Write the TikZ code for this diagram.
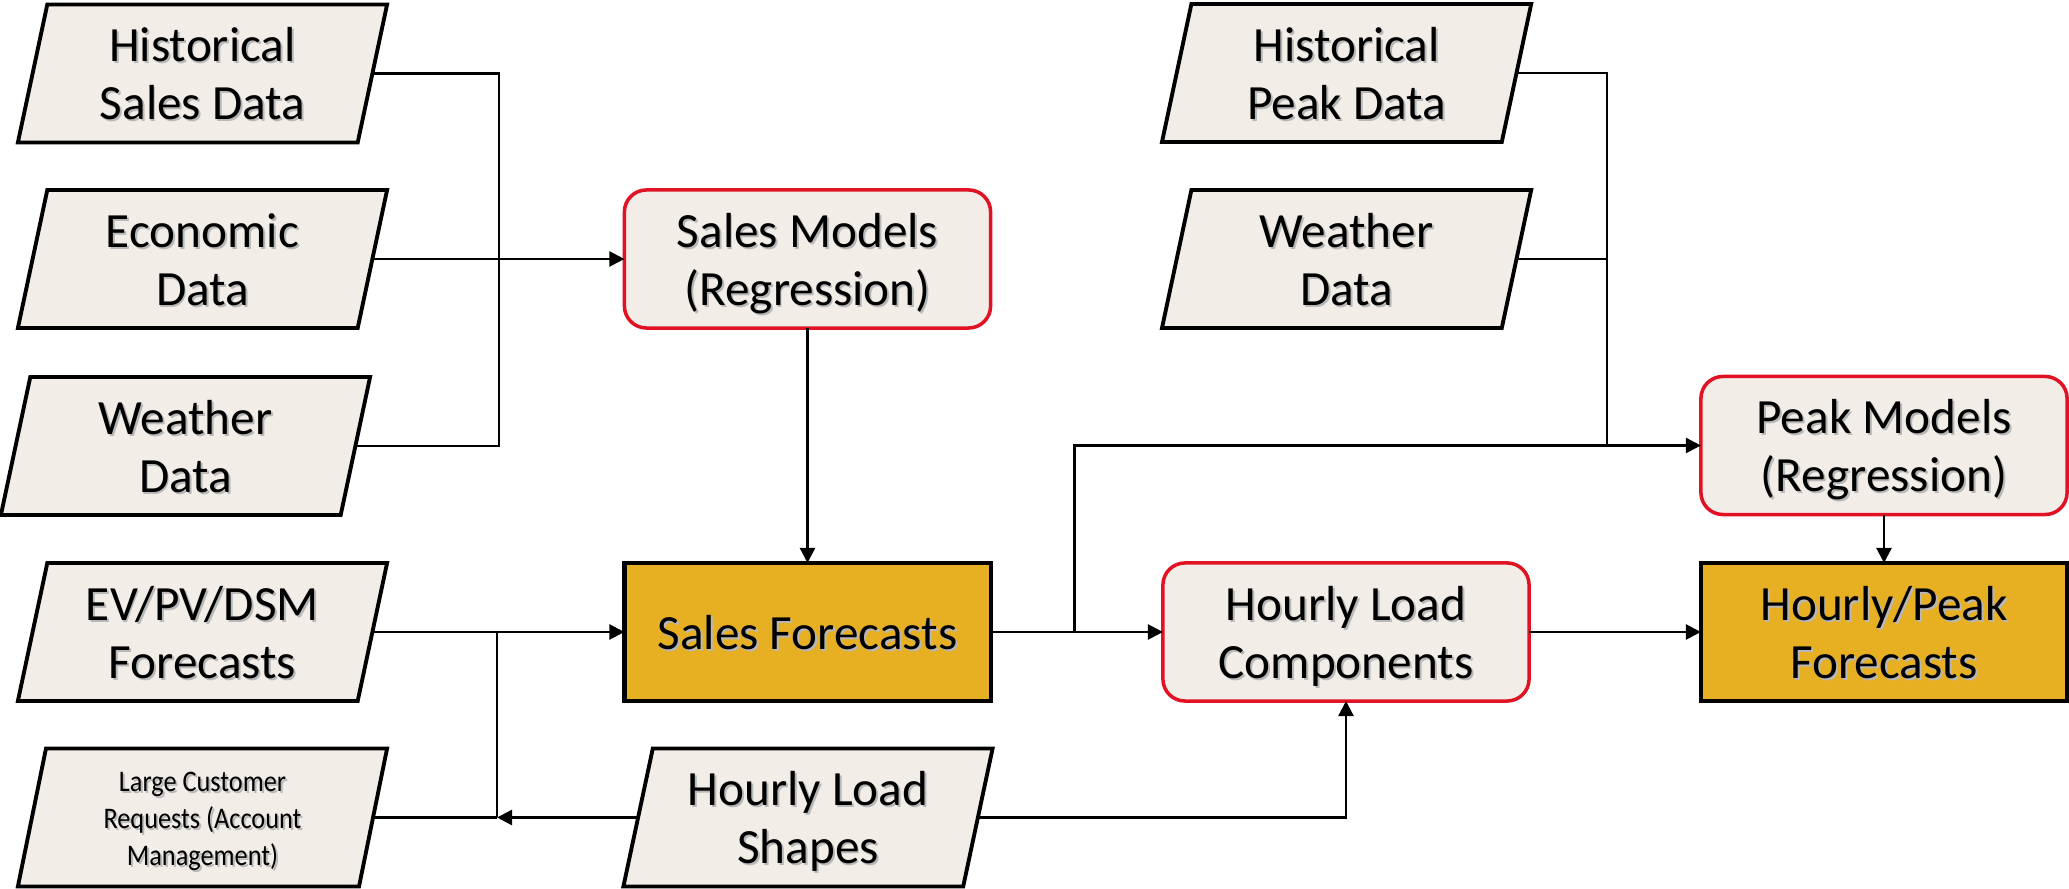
\documentclass[tikz,border=0pt]{standalone}
\usepackage{fontspec}
\setmainfont{Carlito}
\newfontfamily\lcfont[FakeStretch=0.88]{Carlito}
\usetikzlibrary{shapes.geometric,arrows.meta}
\definecolor{beige}{RGB}{243,237,232}
\definecolor{gold}{RGB}{230,176,34}
\definecolor{redb}{RGB}{224,18,36}
\newcommand{\shtxt}[1]{\begingroup\raisebox{-0.115\baselineskip}[\height][\depth]{%
  \setbox0\hbox{\begin{tabular}{@{}c@{}}#1\end{tabular}}%
  \rlap{\kern0.55pt\raisebox{-0.55pt}{\color{black!28}\begin{tabular}{@{}c@{}}#1\end{tabular}}}\box0}\endgroup}
\begin{document}
\begin{tikzpicture}[x=0.01cm,y=-0.01cm,
  txt/.style={align=center, font=\fontsize{14}{16.5}\selectfont, inner sep=0pt, outer sep=0pt},
  para/.style={txt, trapezium, trapezium left angle=76, trapezium right angle=104,
    trapezium stretches body, minimum width=3.69cm, minimum height=1.38cm,
    draw=black, line width=1.1pt, fill=beige},
  redbox/.style={txt, rectangle, rounded corners=0.22cm, draw=redb, line width=1pt,
    fill=beige, minimum width=3.66cm, minimum height=1.38cm},
  goldbox/.style={txt, rectangle, draw=black, line width=1.2pt, fill=gold,
    minimum width=3.66cm, minimum height=1.38cm},
  conn/.style={line width=0.7pt, draw=black},
  arr/.style={conn, -{Triangle[length=4.3pt,width=4.3pt]}}]
\useasboundingbox (0,0) rectangle (2069,889);

% left inputs
\node[para] (hsd) at (202.5,73.5) {\shtxt{Historical\\Sales Data}};
\node[para] (eco) at (202.5,259) {\shtxt{Economic\\Data}};
\node[para] (wl) at (185.5,446) {\shtxt{Weather\\Data}};
\node[para] (ev) at (202.5,632) {\shtxt{EV/PV/DSM\\Forecasts}};
\node[para, font=\lcfont\fontsize{8.5}{10.5}\selectfont] (lc) at (202.5,817.5) {\shtxt{Large Customer\\Requests (Account\\Management)}};

% middle
\node[redbox] (sm) at (807.5,259) {\shtxt{Sales Models\\(Regression)}};
\node[goldbox] (sf) at (807.5,632) {\shtxt{Sales Forecasts}};
\node[para] (hls) at (808,817.5) {\shtxt{Hourly Load\\Shapes}};

% right
\node[para] (hpd) at (1346.6,73) {\shtxt{Historical\\Peak Data}};
\node[para] (wr) at (1346.6,259) {\shtxt{Weather\\Data}};
\node[redbox] (pm) at (1884,445.5) {\shtxt{Peak Models\\(Regression)}};
\node[redbox] (hlc) at (1346,632) {\shtxt{Hourly Load\\Components}};
\node[goldbox] (hpf) at (1884,632) {\shtxt{Hourly/Peak\\Forecasts}};

% junctions
\coordinate (jA) at (499,259);
\coordinate (jB) at (497,632);
\coordinate (jC) at (497,817.5);
\coordinate (jD) at (1074.7,632);
\coordinate (jE) at (1607,445.5);

% connectors
\draw[conn] (hsd.right side) -| (jA);
\draw[conn] (wl.right side) -| (jA);
\draw[arr] (eco.right side) -- (sm.west);
\draw[arr] (sm.south) -- (sf.north);
\draw[arr] (ev.right side) -- (sf.west);
\draw[conn] (jB) -- (jC);
\draw[conn] (lc.right side) -- (jC);
\draw[arr] (hls.left side) -- (jC);
\draw[arr] (hls.right side) -| (hlc.south);
\draw[arr] (sf.east) -- (hlc.west);
\draw[arr] (jD) |- (pm.west);
\draw[conn] (hpd.right side) -| (jE);
\draw[conn] (wr.right side) -- (wr.right side -| jE);
\draw[arr] (pm.south) -- (hpf.north);
\draw[arr] (hlc.east) -- (hpf.west);
\end{tikzpicture}
\end{document}
